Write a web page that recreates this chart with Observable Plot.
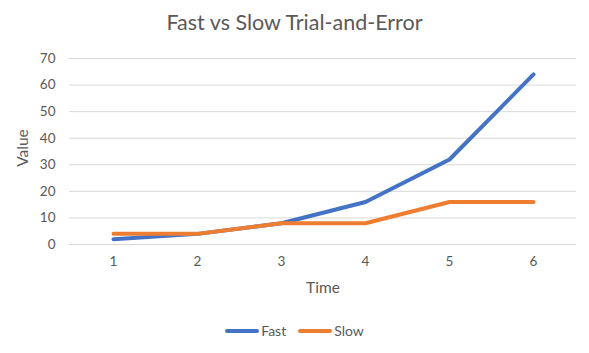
<!DOCTYPE html>
<html>
<head>
<meta charset="utf-8">
<script src="https://cdn.jsdelivr.net/npm/d3@7"></script>
<script src="https://cdn.jsdelivr.net/npm/@observablehq/plot@0.6"></script>
<style>
  html, body { margin: 0; padding: 0; background: #fff; }
  #wrap { position: relative; width: 589px; height: 353px; font-family: Lato, "Open Sans", sans-serif; color: #595959; overflow: hidden; }
  #title { position: absolute; left: 0; width: 589px; top: 23px; transform: translateY(-50%); text-align: center; font-size: 21.5px; line-height: 1; }
  #ylab { position: absolute; left: 23px; top: 148px; transform: translate(-50%, -50%) rotate(-90deg); font-size: 15.5px; line-height: 1; }
  #xlab { position: absolute; left: 323px; top: 288px; transform: translate(-50%, -50%); font-size: 15.5px; line-height: 1; }
  #legend { position: absolute; left: 0; width: 589px; top: 331px; transform: translateY(-50%); display: flex; justify-content: center; font-size: 14px; line-height: 1; }
  .item { display: flex; align-items: center; }
  .swatch { width: 34px; height: 4px; border-radius: 2px; margin-right: 2px; }
  #chart { position: absolute; left: 0; top: 0; }
</style>
</head>
<body>
<div id="wrap">
  <div id="chart"></div>
  <div id="title">Fast vs Slow Trial-and-Error</div>
  <div id="ylab">Value</div>
  <div id="xlab">Time</div>
  <div id="legend"></div>
</div>
<script>
const times = [1, 2, 3, 4, 5, 6];
const fastValues = [2, 4, 8, 16, 32, 64];
const slowValues = [4, 4, 8, 8, 16, 16];
const yTicks = [0, 10, 20, 30, 40, 50, 60, 70];
const seriesNames = ["Fast", "Slow"];
const seriesColors = ["#4472C4", "#ED7D31"];

const fast = times.map((t, i) => ({time: t, value: fastValues[i], series: "Fast"}));
const slow = times.map((t, i) => ({time: t, value: slowValues[i], series: "Slow"}));

const chart = Plot.plot({
  width: 589,
  height: 353,
  marginLeft: 69,
  marginRight: 13,
  marginTop: 58,
  marginBottom: 109,
  style: {fontFamily: "Lato, 'Open Sans', sans-serif", fontSize: "13.5px", color: "#595959", background: "transparent"},
  x: {type: "point", domain: times, padding: 0.5},
  y: {domain: [0, 70]},
  marks: [
    Plot.gridY(yTicks, {stroke: "#d9d9d9", strokeOpacity: 1, strokeWidth: 1}),
    Plot.axisY(yTicks, {tickSize: 0, tickPadding: 14, label: null, fill: "#595959"}),
    Plot.axisX(times, {tickSize: 0, tickPadding: 12, label: null, fill: "#595959"}),
    Plot.line(fast, {x: "time", y: "value", stroke: seriesColors[0], strokeWidth: 4, strokeLinecap: "round", strokeLinejoin: "round"}),
    Plot.line(slow, {x: "time", y: "value", stroke: seriesColors[1], strokeWidth: 4, strokeLinecap: "round", strokeLinejoin: "round"})
  ]
});
document.getElementById("chart").appendChild(chart);

const legend = document.getElementById("legend");
seriesNames.forEach((name, i) => {
  const item = document.createElement("div");
  item.className = "item";
  item.style.marginRight = i === 0 ? "12px" : "0";
  const sw = document.createElement("div");
  sw.className = "swatch";
  sw.style.background = seriesColors[i];
  const label = document.createElement("span");
  label.textContent = name;
  item.appendChild(sw);
  item.appendChild(label);
  legend.appendChild(item);
});
</script>
</body>
</html>
